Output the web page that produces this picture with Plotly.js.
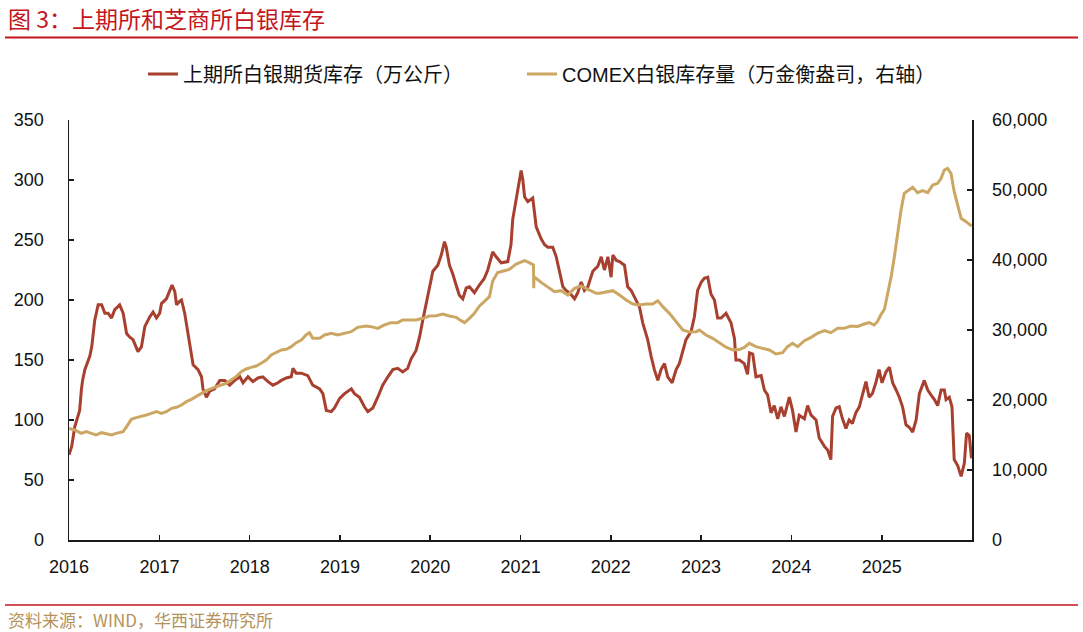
<!DOCTYPE html>
<html>
<head>
<meta charset="utf-8">
<script src="https://cdn.plot.ly/plotly-3.0.1.min.js"></script>
<style>
  html, body { margin: 0; padding: 0; background: #fff; }
  #chart { width: 1083px; height: 632px; }
</style>
</head>
<body>
<div id="chart"></div>
<script>
// 上期所白银期货库存（万公斤）
const shfeDates = [
  '2016-01-01','2016-01-12','2016-01-24','2016-02-06','2016-02-13','2016-02-20','2016-02-25','2016-03-05','2016-03-13','2016-03-25',
  '2016-04-02','2016-04-08','2016-04-14','2016-04-28','2016-05-12','2016-05-25','2016-06-07','2016-06-21','2016-07-04','2016-07-24',
  '2016-08-07','2016-08-21','2016-09-03','2016-09-16','2016-10-06','2016-10-20','2016-11-03','2016-11-23','2016-12-06','2016-12-20',
  '2017-01-02','2017-01-09','2017-01-29','2017-02-12','2017-02-21','2017-03-04','2017-03-11','2017-03-24','2017-03-31','2017-04-13',
  '2017-04-27','2017-05-10','2017-05-17','2017-06-06','2017-06-20','2017-06-26','2017-07-10','2017-07-23','2017-08-12','2017-09-02',
  '2017-09-22','2017-10-12','2017-11-01','2017-11-22','2017-12-05','2017-12-25',
  '2018-01-14','2018-02-03','2018-02-23','2018-03-16','2018-04-05','2018-04-25','2018-05-09','2018-05-29','2018-06-18','2018-06-25',
  '2018-07-08','2018-07-29','2018-08-24','2018-09-13','2018-10-11','2018-10-24','2018-11-07','2018-11-27','2018-12-10','2018-12-31',
  '2019-01-20','2019-02-16','2019-03-01','2019-03-21','2019-04-10','2019-04-24','2019-05-14','2019-06-03','2019-06-23','2019-07-14',
  '2019-08-03','2019-08-23','2019-09-12','2019-10-02','2019-10-16','2019-11-05','2019-11-19','2019-12-02','2019-12-16','2019-12-29',
  '2020-01-12','2020-02-01','2020-02-15','2020-02-28','2020-03-06','2020-03-19','2020-04-01','2020-04-15','2020-04-28','2020-05-12',
  '2020-05-26','2020-06-08','2020-06-28','2020-07-18','2020-08-07','2020-08-21','2020-09-10','2020-09-24','2020-10-14','2020-11-10',
  '2020-11-23','2020-11-30','2020-12-14','2020-12-20',
  '2021-01-03','2021-01-10','2021-01-17','2021-01-30','2021-02-19','2021-03-05','2021-03-25','2021-04-08','2021-04-21','2021-05-11',
  '2021-05-25','2021-06-07','2021-06-21','2021-07-04','2021-07-18','2021-08-07','2021-08-20','2021-09-03','2021-09-16','2021-09-30',
  '2021-10-20','2021-11-09','2021-11-23','2021-12-06','2021-12-20',
  '2022-01-02','2022-01-09','2022-01-23','2022-02-05','2022-02-25','2022-03-10','2022-03-24','2022-04-06','2022-04-27','2022-05-10',
  '2022-05-30','2022-06-13','2022-06-26','2022-07-10','2022-07-23','2022-08-06','2022-08-19','2022-09-06','2022-09-22','2022-10-05',
  '2022-10-19','2022-11-01','2022-11-22','2022-12-05','2022-12-18',
  '2023-01-02','2023-01-14','2023-01-28','2023-02-10','2023-02-24','2023-03-09','2023-03-23','2023-04-12','2023-05-02','2023-05-16',
  '2023-05-22','2023-06-05','2023-06-25','2023-07-08','2023-07-16','2023-07-29','2023-08-11','2023-09-01','2023-09-14','2023-09-27',
  '2023-10-11','2023-10-24','2023-11-07','2023-11-20','2023-12-04','2023-12-24',
  '2024-01-06','2024-01-20','2024-02-02','2024-02-23','2024-03-07','2024-03-21','2024-04-10','2024-04-23','2024-05-14','2024-05-27',
  '2024-06-09','2024-06-16','2024-06-30','2024-07-13','2024-07-26','2024-08-09','2024-08-22','2024-09-04','2024-09-18','2024-10-02',
  '2024-10-15','2024-10-29','2024-11-11','2024-11-24','2024-12-08','2024-12-21',
  '2025-01-02','2025-01-18','2025-02-01','2025-02-14','2025-02-28','2025-03-13','2025-03-26','2025-04-09','2025-04-22','2025-05-06',
  '2025-05-20','2025-06-02','2025-06-22','2025-07-06','2025-07-19','2025-08-02','2025-08-15','2025-08-29','2025-09-11','2025-09-18',
  '2025-10-01','2025-10-12','2025-10-21','2025-11-04','2025-11-18','2025-12-01','2025-12-10','2025-12-21','2025-12-30'
];
const shfeStock = [
  71,78,94,103,108,125,133,142,147,153,
  161,175,183,196,196,189,189,185,192,196,
  189,172,169,167,157,161,178,186,190,185,
  189,197,201,208,212.5,207,196,199,200,189,
  172,153,146,142,136,126,119,124,126,133,
  133,129,133,136,131,136,
  132,135,136,132,129,131,133,135,136,143,
  139,139,137,129,126,122,108,107,110,118,
  122,126,122,119,111,107,110,119,129,136,
  142,143,140,143,151,158,169,183,197,211,
  224,229,237.5,248.6,244,229,222,212.5,204,201,
  210,211,206,212.5,218,225,240,236,231,232,
  246,267,285,292,
  308,300,286,282,285,261,251,246,244,244,
  236,224,211,208,206,201,206,215,208,211,
  224,228,236,225,236,
  219,237.5,233,232,229,211,208,203,194,181,
  167,153,142,133,142,147,136,131,142,147,
  158,167,174,186,208,
  215,218,219,205,200,185,185,189,181,168,
  150,150,147,138,156,155,136,137,125,121,
  106,112,101,111,103,119,
  108,90,104,101,112,104,100,85,78,75,
  67,103,110,111,101,93,100,97,106,111,
  122,132,119,122,131,142,
  131,140,144,131,125,119,111,96,94,90,
  100,122,133,125,121,117,112,125,125,117,
  119,111,67,62,53,64,89,87,68
];

// COMEX白银库存量（万金衡盎司）
const comexDates = [
  '2016-01-01','2016-01-24','2016-02-20','2016-03-11','2016-03-31','2016-04-20','2016-05-12','2016-05-31','2016-06-21','2016-07-10',
  '2016-08-07','2016-08-21','2016-09-09','2016-09-29','2016-10-20','2016-11-09','2016-11-29','2016-12-20',
  '2017-01-09','2017-01-29','2017-02-19','2017-03-11','2017-03-31','2017-04-20','2017-05-10','2017-05-31','2017-06-20','2017-07-10',
  '2017-07-30','2017-08-19','2017-09-08','2017-09-28','2017-10-18','2017-11-07','2017-11-28','2017-12-18',
  '2018-01-07','2018-01-28','2018-02-16','2018-03-09','2018-03-29','2018-04-18','2018-05-09','2018-05-29','2018-06-18','2018-07-08',
  '2018-07-29','2018-08-17','2018-08-31','2018-09-13','2018-10-11','2018-10-31','2018-11-27','2018-12-23',
  '2019-01-20','2019-02-16','2019-03-14','2019-04-17','2019-05-08','2019-06-03','2019-06-30','2019-07-27','2019-08-23','2019-09-12',
  '2019-10-09','2019-11-05','2019-12-02','2019-12-29',
  '2020-01-25','2020-02-21','2020-03-19','2020-04-15','2020-05-05','2020-05-19','2020-06-08','2020-06-28','2020-07-18','2020-08-07',
  '2020-08-28','2020-09-10','2020-09-30','2020-10-20','2020-11-16','2020-12-14',
  '2021-01-10','2021-01-17','2021-02-05','2021-02-22','2021-02-23','2021-02-24','2021-03-25','2021-04-21','2021-05-18','2021-06-14',
  '2021-07-11','2021-08-07','2021-09-03','2021-09-30','2021-11-03','2021-11-16','2021-12-13',
  '2022-01-09','2022-02-05','2022-03-04','2022-03-31','2022-04-27','2022-05-24','2022-06-19','2022-07-10','2022-07-30','2022-08-26',
  '2022-09-22','2022-10-19','2022-11-15','2022-12-12','2022-12-25',
  '2023-01-21','2023-02-17','2023-03-16','2023-04-12','2023-05-09','2023-06-05','2023-06-25','2023-07-15','2023-08-11','2023-09-07',
  '2023-10-04','2023-10-31','2023-11-27','2023-12-17',
  '2024-01-06','2024-01-27','2024-02-23','2024-03-21','2024-04-16','2024-05-14','2024-06-09','2024-07-07','2024-08-02','2024-08-29',
  '2024-09-25','2024-10-22','2024-11-11','2024-12-01','2024-12-14','2024-12-28',
  '2025-01-12','2025-01-25','2025-02-08','2025-02-21','2025-03-06','2025-03-20','2025-04-02','2025-04-16','2025-05-06','2025-05-26',
  '2025-06-15','2025-07-06','2025-07-26','2025-08-15','2025-08-29','2025-09-11','2025-09-24','2025-10-08','2025-10-21','2025-11-04',
  '2025-11-18','2025-12-08','2025-12-30'
];
const comexStock = [
  15950,15714,15238,15476,15238,15000,15333,15143,15000,15238,
  15476,16190,17238,17476,17619,17857,18095,18333,
  18095,18333,18810,18952,19286,19762,20095,20476,20952,21333,
  21667,21905,22143,22381,22857,23333,24048,24429,
  24667,24857,25238,25714,26429,26762,27143,27238,27619,28190,
  28571,29286,29619,28810,28810,29286,29524,29286,
  29524,29762,30381,30571,30476,30238,30714,31048,31048,31429,
  31429,31429,31667,32000,
  32048,32286,32000,31810,31333,31048,31667,32381,33400,34100,
  34762,37000,38200,38400,38667,39429,
  39762,39905,39619,39286,35952,37600,36800,36095,35476,35619,
  35000,35952,36286,35810,35238,35238,35476,
  35619,35000,34286,33714,33571,33714,33714,34190,33333,32381,
  31190,30000,29700,29762,30000,
  29286,28810,28200,27550,27143,27200,27500,28095,27619,27381,
  27143,26571,26762,27619,
  28095,27619,28476,28952,29524,29905,29619,30238,30238,30571,
  30500,30857,31048,30714,31190,32143,
  33000,35238,37619,40476,43810,47143,49524,49905,50381,49619,
  49905,49619,50714,50952,51667,52857,53095,52381,49762,47857,
  45952,45476,44857
];

// 横轴年份刻度
const yearTicks = ['2016-01-01','2017-01-01','2018-01-01','2019-01-01','2020-01-01',
                   '2021-01-01','2022-01-01','2023-01-01','2024-01-01','2025-01-01'];
const yearLabels = ['2016','2017','2018','2019','2020','2021','2022','2023','2024','2025'];

const seriesNames = ['上期所白银期货库存（万公斤）', 'COMEX白银库存量（万金衡盎司，右轴）'];
const chartTitle = '图 3：上期所和芝商所白银库存';
const sourceNote = '资料来源：WIND，华西证券研究所';

const RED = '#A8402F';
const GOLD = '#CCA763';
const TITLE_RED = '#C4161C';
const LATIN = 'Liberation Sans, Arial, Noto Sans CJK SC, sans-serif';
const CJK = 'Noto Sans CJK SC, sans-serif';

// plot area in pixels: x 69..972, y 120..540
const L = 69, R = 972, T = 120, B = 540;
const px = x => (x - L) / (R - L);
const py = y => (B - y) / (B - T);

const traces = [
  {
    x: shfeDates, y: shfeStock, name: seriesNames[0],
    type: 'scatter', mode: 'lines',
    line: {color: RED, width: 3},
    yaxis: 'y', legend: 'legend'
  },
  {
    x: comexDates, y: comexStock, name: seriesNames[1],
    type: 'scatter', mode: 'lines',
    line: {color: GOLD, width: 3},
    yaxis: 'y2', legend: 'legend2'
  }
];

const axisCommon = {
  showline: true, linecolor: '#1a1a1a', linewidth: 1.5,
  ticks: 'inside', ticklen: 5, tickwidth: 1.5, tickcolor: '#1a1a1a',
  showgrid: false, zeroline: false,
  tickfont: {family: LATIN, size: 18, color: '#111'}
};

const legendCommon = {
  orientation: 'h', xanchor: 'left', yanchor: 'middle',
  font: {family: LATIN, size: 20, color: '#111'},
  bgcolor: 'rgba(0,0,0,0)', borderwidth: 0
};

const layout = {
  width: 1083, height: 632,
  margin: {l: L, r: 1083 - R, t: T, b: 632 - B, pad: 0},
  paper_bgcolor: '#ffffff', plot_bgcolor: '#ffffff',
  font: {family: LATIN, size: 18, color: '#111'},
  showlegend: true,
  legend: Object.assign({}, legendCommon, {x: px(143), y: py(74)}),
  legend2: Object.assign({}, legendCommon, {x: px(522), y: py(74)}),
  xaxis: Object.assign({}, axisCommon, {
    type: 'date',
    range: ['2016-01-01', '2026-01-01'],
    tickmode: 'array', tickvals: yearTicks, ticktext: yearLabels,
    ticklabelstandoff: 10
  }),
  yaxis: Object.assign({}, axisCommon, {
    range: [0, 350], dtick: 50, tick0: 0,
    ticklabelstandoff: 20
  }),
  yaxis2: Object.assign({}, axisCommon, {
    overlaying: 'y', side: 'right',
    range: [0, 60000], dtick: 10000, tick0: 0,
    tickformat: ',',
    ticklabelstandoff: 15
  }),
  shapes: [
    {type: 'line', xref: 'paper', yref: 'paper', x0: px(5), x1: px(1078), y0: py(37.5), y1: py(37.5),
     line: {color: TITLE_RED, width: 2}},
    {type: 'line', xref: 'paper', yref: 'paper', x0: px(5), x1: px(1078), y0: py(605), y1: py(605),
     line: {color: TITLE_RED, width: 1.5}}
  ],
  annotations: [
    {text: chartTitle, xref: 'paper', yref: 'paper', x: px(6), y: py(18),
     xanchor: 'left', yanchor: 'middle', showarrow: false,
     font: {family: CJK, size: 23, color: TITLE_RED}},
    {text: sourceNote, xref: 'paper', yref: 'paper', x: px(6), y: py(619),
     xanchor: 'left', yanchor: 'middle', showarrow: false,
     font: {family: CJK, size: 17, color: '#B4925A'}}
  ]
};

Plotly.newPlot('chart', traces, layout, {displayModeBar: false, staticPlot: true});
</script>
</body>
</html>
